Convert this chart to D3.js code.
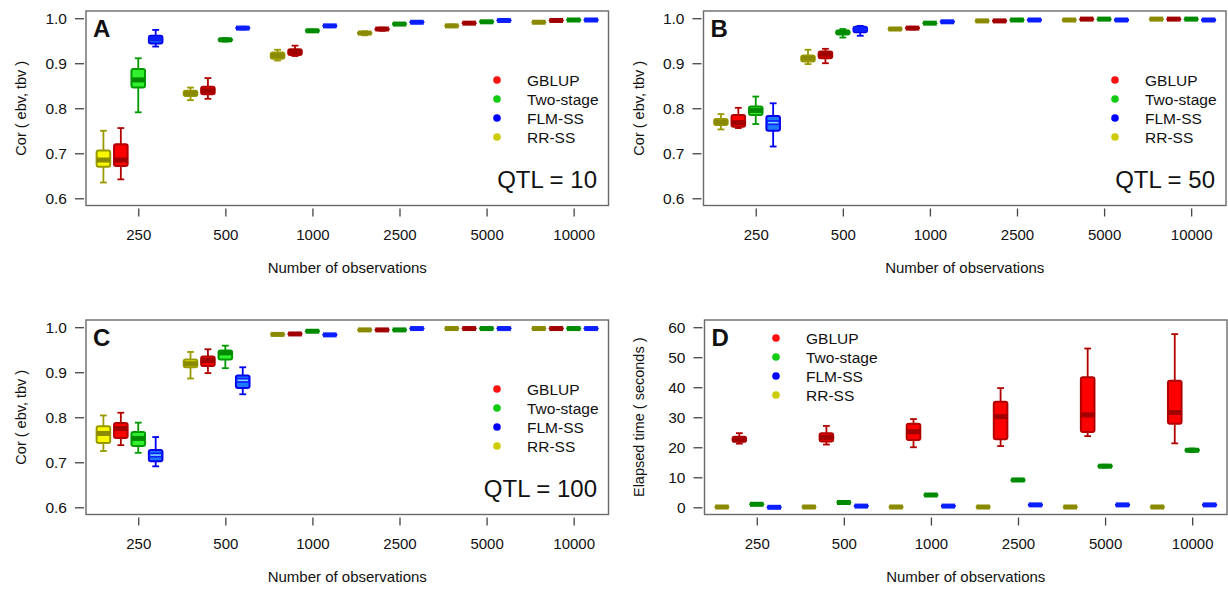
<!DOCTYPE html>
<html><head><meta charset="utf-8">
<script src="https://cdn.jsdelivr.net/npm/d3@7"></script>
<style>
body{margin:0;background:#fff}
svg{display:block}
text{font-family:"Liberation Sans",Arial,sans-serif;fill:#111}
</style>
</head><body>
<svg id="chart" width="1228" height="592"></svg>
<script>
// ---------------- data ----------------
const sampleSizes = ["250","500","1000","2500","5000","10000"];
const methods = ["RR-SS","GBLUP","Two-stage","FLM-SS"];       // order inside each group
const legendOrder = ["GBLUP","Two-stage","FLM-SS","RR-SS"];
const corTicks = [0.6,0.7,0.8,0.9,1.0];
const timeTicks = [0,10,20,30,40,50,60];

// each row: [lower whisker, Q1, median, Q3, upper whisker], one row per sample size
const qtl10_RRSS = [[0.635,0.670,0.685,0.706,0.750],[0.818,0.827,0.833,0.839,0.846],[0.906,0.910,0.917,0.924,0.930],[0.962,0.965,0.967,0.969,0.971],[0.980,0.982,0.983,0.984,0.986],[0.989,0.990,0.991,0.992,0.993]];
const qtl10_GBLUP = [[0.642,0.672,0.685,0.720,0.756],[0.821,0.831,0.839,0.848,0.867],[0.916,0.918,0.926,0.931,0.939],[0.972,0.974,0.976,0.977,0.979],[0.987,0.988,0.989,0.990,0.991],[0.993,0.994,0.995,0.996,0.997]];
const qtl10_TwoStage = [[0.791,0.846,0.863,0.887,0.911],[0.948,0.950,0.952,0.954,0.956],[0.969,0.971,0.972,0.973,0.975],[0.985,0.986,0.987,0.988,0.989],[0.990,0.991,0.992,0.993,0.994],[0.994,0.995,0.996,0.997,0.998]];
const qtl10_FLMSS = [[0.937,0.944,0.954,0.961,0.974],[0.975,0.977,0.978,0.979,0.981],[0.980,0.982,0.983,0.984,0.985],[0.989,0.990,0.991,0.992,0.993],[0.993,0.994,0.995,0.996,0.997],[0.994,0.995,0.996,0.997,0.998]];

const qtl50_RRSS = [[0.753,0.763,0.769,0.776,0.787],[0.898,0.904,0.911,0.917,0.930],[0.974,0.975,0.976,0.977,0.978],[0.992,0.993,0.994,0.995,0.996],[0.994,0.995,0.996,0.997,0.998],[0.996,0.997,0.998,0.998,0.999]];
const qtl50_GBLUP = [[0.756,0.759,0.768,0.785,0.801],[0.900,0.911,0.920,0.926,0.932],[0.975,0.977,0.978,0.979,0.981],[0.992,0.993,0.994,0.995,0.996],[0.996,0.997,0.998,0.998,0.999],[0.996,0.997,0.998,0.998,0.999]];
const qtl50_TwoStage = [[0.765,0.785,0.795,0.804,0.826],[0.957,0.964,0.969,0.972,0.976],[0.987,0.988,0.989,0.990,0.991],[0.994,0.995,0.996,0.997,0.998],[0.996,0.997,0.998,0.998,0.999],[0.996,0.997,0.998,0.998,0.999]];
const qtl50_FLMSS = [[0.715,0.750,0.768,0.783,0.811],[0.961,0.969,0.976,0.981,0.983],[0.990,0.991,0.992,0.993,0.994],[0.994,0.995,0.996,0.997,0.998],[0.994,0.995,0.996,0.997,0.998],[0.994,0.995,0.996,0.997,0.998]];

const qtl100_RRSS = [[0.725,0.743,0.764,0.780,0.804],[0.886,0.911,0.919,0.928,0.945],[0.982,0.983,0.984,0.985,0.986],[0.992,0.993,0.994,0.995,0.996],[0.995,0.996,0.997,0.998,0.999],[0.995,0.996,0.997,0.998,0.999]];
const qtl100_GBLUP = [[0.738,0.754,0.775,0.787,0.810],[0.898,0.914,0.926,0.935,0.951],[0.983,0.984,0.985,0.986,0.987],[0.992,0.993,0.994,0.995,0.996],[0.995,0.996,0.997,0.998,0.999],[0.995,0.996,0.997,0.998,0.999]];
const qtl100_TwoStage = [[0.721,0.736,0.753,0.767,0.788],[0.909,0.928,0.943,0.948,0.959],[0.989,0.990,0.991,0.992,0.993],[0.992,0.993,0.994,0.995,0.996],[0.995,0.996,0.997,0.998,0.999],[0.995,0.996,0.997,0.998,0.999]];
const qtl100_FLMSS = [[0.691,0.702,0.716,0.727,0.756],[0.851,0.865,0.882,0.893,0.911],[0.981,0.982,0.983,0.984,0.985],[0.995,0.996,0.997,0.998,0.999],[0.995,0.996,0.997,0.998,0.999],[0.995,0.996,0.997,0.998,0.999]];

const time_RRSS = [[0.0,0.05,0.1,0.15,0.2],[0.0,0.05,0.1,0.15,0.2],[0.0,0.05,0.1,0.15,0.2],[0.0,0.05,0.1,0.15,0.2],[0.0,0.05,0.1,0.15,0.2],[0.0,0.05,0.1,0.15,0.2]];
const time_GBLUP = [[21.2,21.8,22.5,23.5,24.7],[20.9,21.9,23.3,24.7,27.1],[20.0,22.4,25.2,27.8,29.4],[20.4,22.7,30.2,35.2,39.7],[23.7,25.1,30.8,43.3,52.9],[21.3,27.8,31.6,42.2,57.7]];
const time_TwoStage = [[0.7,0.85,1.0,1.15,1.3],[1.3,1.45,1.6,1.75,1.9],[3.8,3.95,4.1,4.25,4.4],[8.7,8.9,9.1,9.3,9.5],[13.2,13.4,13.7,14.0,14.2],[18.4,18.7,19.0,19.3,19.6]];
const time_FLMSS = [[-0.2,-0.1,0.0,0.1,0.2],[0.2,0.3,0.4,0.5,0.6],[0.2,0.3,0.4,0.5,0.6],[0.6,0.7,0.8,0.9,1.0],[0.6,0.7,0.8,0.9,1.0],[0.6,0.7,0.8,0.9,1.0]];

// ---------------- style ----------------
const colors = {
  "GBLUP":     {fill:"#FF0000", line:"#B00000", med:"#A00000", dot:"#FF1010"},
  "Two-stage": {fill:"#30F030", line:"#009A00", med:"#008A00", dot:"#10CC10"},
  "FLM-SS":    {fill:"#1E78FF", line:"#0000F0", med:"#0A1EFF", hi:"#7FD8FF", dot:"#0000FF"},
  "RR-SS":     {fill:"#F8F800", line:"#999900", med:"#8A8A00", dot:"#CCCC00"}
};

const panels = [
  {letter:"A", left:86, right:608.5, top:11, bottom:205.5, domain:[0.6,1.0], ticks:corTicks, fmt:d3.format(".1f"),
   ytitle:"Cor ( ebv, tbv )", ytitleX:21,
   series:{"RR-SS":qtl10_RRSS,"GBLUP":qtl10_GBLUP,"Two-stage":qtl10_TwoStage,"FLM-SS":qtl10_FLMSS},
   legX:497, legY:80, qtl:"QTL = 10", qtlX:597, qtlY:188},
  {letter:"B", left:703.5, right:1226, top:11, bottom:205.5, domain:[0.6,1.0], ticks:corTicks, fmt:d3.format(".1f"),
   ytitle:"Cor ( ebv, tbv )", ytitleX:639,
   series:{"RR-SS":qtl50_RRSS,"GBLUP":qtl50_GBLUP,"Two-stage":qtl50_TwoStage,"FLM-SS":qtl50_FLMSS},
   legX:1115, legY:80, qtl:"QTL = 50", qtlX:1215, qtlY:188},
  {letter:"C", left:86, right:608.5, top:320, bottom:514.5, domain:[0.6,1.0], ticks:corTicks, fmt:d3.format(".1f"),
   ytitle:"Cor ( ebv, tbv )", ytitleX:21,
   series:{"RR-SS":qtl100_RRSS,"GBLUP":qtl100_GBLUP,"Two-stage":qtl100_TwoStage,"FLM-SS":qtl100_FLMSS},
   legX:497, legY:389, qtl:"QTL = 100", qtlX:597, qtlY:497},
  {letter:"D", left:704.5, right:1227, top:320, bottom:514.5, domain:[0,60], ticks:timeTicks, fmt:d3.format("d"),
   ytitle:"Elapsed time ( seconds )", ytitleX:639,
   series:{"RR-SS":time_RRSS,"GBLUP":time_GBLUP,"Two-stage":time_TwoStage,"FLM-SS":time_FLMSS},
   legX:776, legY:338, qtl:null}
];

const svg = d3.select("#chart");

panels.forEach(p => {
  const g = svg.append("g");
  const span = p.domain[1]-p.domain[0];
  const y = d3.scaleLinear().domain([p.domain[0]-0.04*span, p.domain[1]+0.04*span]).range([p.bottom, p.top]);
  const x = d3.scaleLinear().domain([0,30]).range([p.left, p.right]);
  const unit = x(1)-x(0);
  const bw = unit*0.78;

  // frame
  g.append("rect").attr("x",p.left).attr("y",p.top).attr("width",p.right-p.left).attr("height",p.bottom-p.top)
    .attr("fill","none").attr("stroke","#6a6a6a").attr("stroke-width",1.4);

  // y axis
  const ya = g.append("g").attr("transform",`translate(${p.left-2},0)`)
    .call(d3.axisLeft(y).tickValues(p.ticks).tickFormat(p.fmt).tickSize(9).tickPadding(8).tickSizeOuter(0));
  ya.select(".domain").remove();
  ya.selectAll("line").attr("stroke","#444").attr("stroke-width",1.3);
  ya.selectAll("text").style("font-size","15.5px").attr("fill","#111").style("font-family","'Liberation Sans',Arial,sans-serif");

  // x axis: ticks under the third box of each group
  const tickPos = sampleSizes.map((s,i)=> i*5+3);
  const xa = g.append("g").attr("transform",`translate(0,${p.bottom+3})`)
    .call(d3.axisBottom(x).tickValues(tickPos).tickFormat((d,i)=>sampleSizes[i]).tickSize(8).tickPadding(13).tickSizeOuter(0));
  xa.select(".domain").remove();
  xa.selectAll("line").attr("stroke","#444").attr("stroke-width",1.3);
  xa.selectAll("text").style("font-size","15px").attr("fill","#111").style("font-family","'Liberation Sans',Arial,sans-serif");

  // titles
  g.append("text").attr("x",(p.left+p.right)/2).attr("y",p.bottom+62).attr("dy","0.35em")
    .attr("text-anchor","middle").style("font-size","15px").text("Number of observations");
  g.append("text").attr("transform",`translate(${p.ytitleX},${(p.top+p.bottom)/2}) rotate(-90)`).attr("dy","0.35em")
    .attr("text-anchor","middle").style("font-size","14.5px").text(p.ytitle);

  // boxes
  sampleSizes.forEach((s,gi) => {
    methods.forEach((m,k) => {
      const v = p.series[m][gi];
      const c = colors[m];
      const cx = x(gi*5+k+1);
      const bg = g.append("g");
      // whiskers
      bg.append("line").attr("x1",cx).attr("x2",cx).attr("y1",y(v[0])).attr("y2",y(v[1])).attr("stroke",c.line).attr("stroke-width",1.8);
      bg.append("line").attr("x1",cx).attr("x2",cx).attr("y1",y(v[3])).attr("y2",y(v[4])).attr("stroke",c.line).attr("stroke-width",1.8);
      // staples
      [v[0],v[4]].forEach(w => bg.append("line").attr("x1",cx-bw/4).attr("x2",cx+bw/4).attr("y1",y(w)).attr("y2",y(w)).attr("stroke",c.line).attr("stroke-width",1.8));
      // box
      bg.append("rect").attr("x",cx-bw/2).attr("width",bw).attr("y",y(v[3])).attr("height",Math.max(0.5,y(v[1])-y(v[3])))
        .attr("fill",c.fill).attr("stroke",c.line).attr("stroke-width",2).attr("rx",2);
      // median band
      bg.append("line").attr("x1",cx-bw/2).attr("x2",cx+bw/2).attr("y1",y(v[2])).attr("y2",y(v[2]))
        .attr("stroke",c.med).attr("stroke-width",5);
      if (c.hi && (y(v[1])-y(v[3])) > 8) {
        bg.append("line").attr("x1",cx-bw/2+1.5).attr("x2",cx+bw/2-1.5).attr("y1",y(v[2])).attr("y2",y(v[2]))
          .attr("stroke",c.hi).attr("stroke-width",1.6);
      }
    });
  });

  // panel letter
  g.append("text").attr("x",p.left+7).attr("y",p.top+26).style("font-size","24px").style("font-weight","bold").attr("fill","#000").text(p.letter);

  // legend
  legendOrder.forEach((m,i) => {
    const ly = p.legY + i*19;
    g.append("circle").attr("cx",p.legX).attr("cy",ly).attr("r",3.8).attr("fill",colors[m].dot);
    g.append("text").attr("x",p.legX+30).attr("y",ly).attr("dy","0.36em").style("font-size","15.5px").text(m);
  });

  if (p.qtl) {
    g.append("text").attr("x",p.qtlX).attr("y",p.qtlY).attr("text-anchor","end").style("font-size","24px").text(p.qtl);
  }
});
</script>
</body></html>
